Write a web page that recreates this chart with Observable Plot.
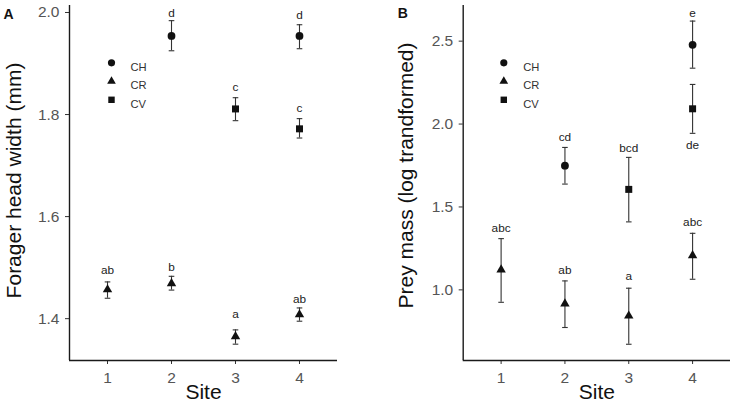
<!DOCTYPE html>
<html>
<head>
<meta charset="utf-8">
<script src="https://cdn.jsdelivr.net/npm/d3@7"></script>
<script src="https://cdn.jsdelivr.net/npm/@observablehq/plot@0.6"></script>
<style>
  html, body { margin: 0; padding: 0; background: #fff; }
  #wrap { position: relative; width: 733px; height: 413px; font-family: "Liberation Sans", Arial, sans-serif; }
  #pa, #pb { position: absolute; top: 0; }
  #pa { left: 0; }
  #pb { left: 370px; }
  svg { overflow: visible; }
</style>
</head>
<body>
<div id="wrap"><div id="pa"></div><div id="pb"></div></div>
<script>
// ---------- data ----------
const sites = [1, 2, 3, 4];
const speciesNames = ["CH", "CR", "CV"];

// Panel A: forager head width (mm)
const headSpecies = ["CH", "CH", "CV", "CV", "CR", "CR", "CR", "CR"];
const headSite    = [2, 4, 3, 4, 1, 2, 3, 4];
const headMean    = [1.954, 1.954, 1.811, 1.772, 1.457, 1.469, 1.365, 1.408];
const headLow     = [1.925, 1.929, 1.788, 1.754, 1.440, 1.456, 1.350, 1.395];
const headHigh    = [1.984, 1.976, 1.833, 1.792, 1.472, 1.483, 1.378, 1.421];
const headLetter  = ["d", "d", "c", "c", "ab", "b", "a", "ab"];
const headLabelY  = [1.999, 1.995, 1.853, 1.812, 1.494, 1.500, 1.409, 1.439];
const headTicks   = [1.4, 1.6, 1.8, 2.0];
const headDomain  = [1.318, 2.0137];

// Panel B: prey mass (log transformed)
const preySpecies = ["CH", "CH", "CV", "CV", "CR", "CR", "CR", "CR"];
const preySite    = [2, 4, 3, 4, 1, 2, 3, 4];
const preyMean    = [1.749, 2.478, 1.606, 2.092, 1.121, 0.916, 0.843, 1.207];
const preyLow     = [1.638, 2.337, 1.410, 1.944, 0.925, 0.773, 0.672, 1.064];
const preyHigh    = [1.859, 2.621, 1.799, 2.239, 1.309, 1.054, 1.010, 1.341];
const preyLetter  = ["cd", "e", "bcd", "de", "abc", "ab", "a", "abc"];
const preyLabelY  = [1.923, 2.671, 1.857, 1.873, 1.372, 1.120, 1.080, 1.408];
const preyTicks   = [1.0, 1.5, 2.0, 2.5];
const preyDomain  = [0.574, 2.715];

const xDomain = [0.406, 4.594];

// ---------- helpers ----------
const symbolOf = {CH: "circle", CR: "triangle", CV: "square"};
const sizeOf = {CH: 3.9, CR: 3.5, CV: 3.95};
const capSymbol = {
  draw(context, size) {
    const w = Math.sqrt(size / Math.PI);
    context.moveTo(-w, 0);
    context.lineTo(w, 0);
  }
};
const font = '"Liberation Sans", Arial, sans-serif';

function panel({species, site, mean, low, high, letter, labelY, ticks, domain,
                width, marginLeft, marginRight, title, tag, legendDx, legendTextDx, tagDx, tagDy, titleDx, titleDy}) {
  const rows = site.map((s, i) => ({sp: species[i], site: s, mean: mean[i], low: low[i], high: high[i], letter: letter[i], ly: labelY[i]}));
  const pointMarks = speciesNames.map(sp => Plot.dot(rows.filter(d => d.sp === sp), {
    x: "site", y: "mean", symbol: symbolOf[sp], r: sizeOf[sp], fill: "#111", stroke: "none"
  }));
  const legendMarks = speciesNames.flatMap((sp, i) => [
    Plot.dot([sp], {frameAnchor: "top-left", dx: legendDx, dy: 57.3 + 18.5 * i, symbol: symbolOf[sp], r: sizeOf[sp] * 0.92, fill: "#111", stroke: "none"}),
    Plot.text([sp], {frameAnchor: "top-left", dx: legendTextDx, dy: 57.3 + 18.5 * i, text: d => d, textAnchor: "start", fontSize: 11.2, fill: "#333"})
  ]);
  return Plot.plot({
    width, height: 413,
    marginLeft, marginRight, marginTop: 5, marginBottom: 53,
    style: {fontFamily: font, background: "transparent"},
    x: {domain: xDomain},
    y: {domain},
    marks: [
      Plot.axisX({ticks: sites, tickSize: 4, tickPadding: 7, fontSize: 15.5, color: "#555", stroke: "#333", tickFormat: d3.format("d"), label: null}),
      Plot.axisY({ticks, tickSize: 4, tickPadding: 6, fontSize: 15.5, color: "#555", stroke: "#333", tickFormat: d3.format(".1f"), label: null}),
      Plot.ruleX([xDomain[0]], {stroke: "#1a1a1a", strokeWidth: 1.4}),
      Plot.ruleY([domain[0]], {stroke: "#1a1a1a", strokeWidth: 1.4}),
      Plot.ruleX(rows, {x: "site", y1: "low", y2: "high", stroke: "#333", strokeWidth: 1.1}),
      Plot.dot(rows, {x: "site", y: "low", symbol: capSymbol, r: 2.8, stroke: "#333", strokeWidth: 1.1, fill: "none"}),
      Plot.dot(rows, {x: "site", y: "high", symbol: capSymbol, r: 2.8, stroke: "#333", strokeWidth: 1.1, fill: "none"}),
      ...pointMarks,
      Plot.text(rows, {x: "site", y: "ly", text: "letter", fontSize: 11.8, fill: "#222"}),
      ...legendMarks,
      Plot.text([title], {frameAnchor: "left", rotate: -90, dx: titleDx, dy: titleDy, text: d => d, fontSize: 21, fill: "#111", textAnchor: "middle"}),
      Plot.text(["Site"], {frameAnchor: "bottom", dy: 38, text: d => d, fontSize: 21, fill: "#111"}),
      Plot.text([tag], {frameAnchor: "top-left", dx: tagDx, dy: tagDy, text: d => d, fontSize: 14, fontWeight: "bold", fill: "#111", textAnchor: "start"})
    ]
  });
}

document.getElementById("pa").appendChild(panel({
  species: headSpecies, site: headSite, mean: headMean, low: headLow, high: headHigh,
  letter: headLetter, labelY: headLabelY, ticks: headTicks, domain: headDomain,
  width: 370, marginLeft: 69, marginRight: 33,
  title: "Forager head width (mm)", tag: "A",
  legendDx: 42, legendTextDx: 61, tagDx: -66, tagDy: 4, titleDx: -55, titleDy: -2.5
}));

document.getElementById("pb").appendChild(panel({
  species: preySpecies, site: preySite, mean: preyMean, low: preyLow, high: preyHigh,
  letter: preyLetter, labelY: preyLabelY, ticks: preyTicks, domain: preyDomain,
  width: 363, marginLeft: 92.7, marginRight: 3,
  title: "Prey mass (log trandformed)", tag: "B",
  legendDx: 40.6, legendTextDx: 60, tagDx: -65.4, tagDy: 3, titleDx: -56.7, titleDy: -7.5
}));
</script>
</body>
</html>
